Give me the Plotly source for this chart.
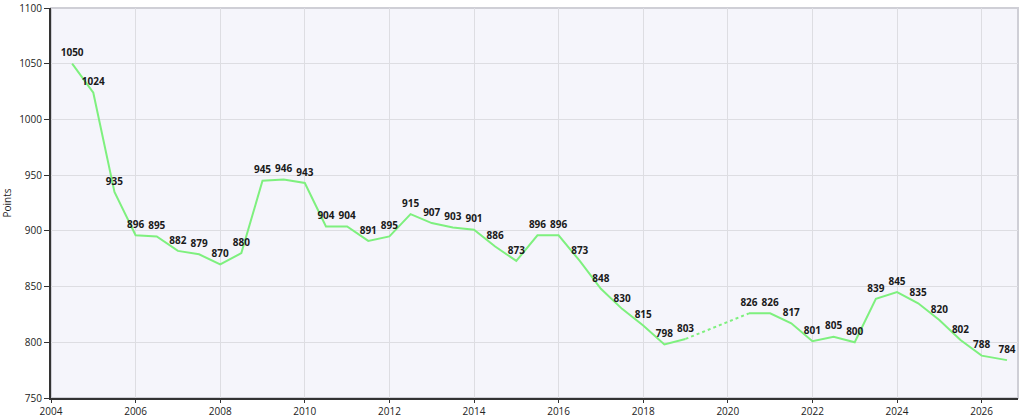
import plotly.graph_objects as go

years = [2004.5, 2005.0, 2005.5, 2006.0, 2006.5, 2007.0, 2007.5, 2008.0, 2008.5,
         2009.0, 2009.5, 2010.0, 2010.5, 2011.0, 2011.5, 2012.0, 2012.5, 2013.0,
         2013.5, 2014.0, 2014.5, 2015.0, 2015.5, 2016.0, 2016.5, 2017.0, 2017.5,
         2018.0, 2018.5, 2019.0,
         2020.5, 2021.0, 2021.5, 2022.0, 2022.5, 2023.0, 2023.5, 2024.0, 2024.5,
         2025.0, 2025.5, 2026.0, 2026.6]
points = [1050, 1024, 935, 896, 895, 882, 879, 870, 880,
          945, 946, 943, 904, 904, 891, 895, 915, 907,
          903, 901, 886, 873, 896, 896, 873, 848, 830,
          815, 798, 803,
          826, 826, 817, 801, 805, 800, 839, 845, 835,
          820, 802, 788, 784]
gap_after = 2019.0  # data missing between this year and the next point

x_vals, y_vals = [], []
for xv, yv in zip(years, points):
    x_vals.append(xv)
    y_vals.append(yv)
    if xv == gap_after:
        x_vals.append(None)
        y_vals.append(None)

gi = years.index(gap_after)

fig = go.Figure()
fig.add_trace(go.Scatter(
    x=[years[gi], years[gi + 1]], y=[points[gi], points[gi + 1]],
    mode="lines", line=dict(color="#7ef07e", width=2, dash="dot"),
    hoverinfo="skip", showlegend=False))
fig.add_trace(go.Scatter(
    x=x_vals, y=y_vals, mode="lines+markers+text",
    line=dict(color="#7ef07e", width=2),
    marker=dict(size=6, opacity=0),
    text=[None if v is None else str(v) for v in y_vals],
    textposition="top center",
    textfont=dict(family="Open Sans", size=10, color="#1a1a1a", weight="bold"),
    connectgaps=False, showlegend=False, cliponaxis=False))

fig.update_layout(
    width=1024, height=418,
    margin=dict(l=51, r=6, t=8, b=20),
    paper_bgcolor="white",
    plot_bgcolor="#f5f5fb",
    font=dict(family="Open Sans", size=10, color="#222"),
    shapes=[dict(type="rect", xref="paper", yref="paper", x0=0, x1=1, y0=0, y1=1,
                 line=dict(color="#cfcfd6", width=2), layer="below")],
)
fig.update_xaxes(
    range=[2004, 2026.86], tickvals=list(range(2004, 2027, 2)),
    showgrid=True, gridcolor="#dddde2", gridwidth=1,
    showline=True, linecolor="#333", linewidth=2,
    ticks="outside", ticklen=3, tickcolor="#333", zeroline=False,
    automargin=False)
fig.update_yaxes(
    range=[750, 1100], tickvals=list(range(750, 1101, 50)),
    showgrid=True, gridcolor="#dddde2", gridwidth=1,
    showline=True, linecolor="#333", linewidth=2,
    ticks="outside", ticklen=5, tickcolor="#333", zeroline=False,
    automargin=False,
    title=dict(text="Points", standoff=6, font=dict(size=10)))

fig.write_html("out.html", config={"displayModeBar": False},
               post_script="document.body.style.margin='0';")
